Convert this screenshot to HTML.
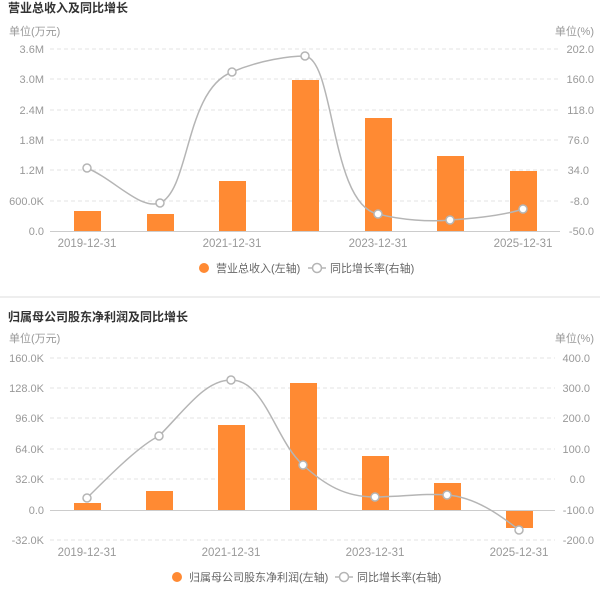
<!DOCTYPE html><html><head><meta charset="utf-8"><style>body{margin:0;background:#fff}svg{display:block}text{font-family:"Liberation Sans","Noto Sans CJK SC",sans-serif}</style></head><body>
<svg width="600" height="592" xmlns="http://www.w3.org/2000/svg">
<g font-size="11" fill="#999">
<text x="8" y="12" font-size="12" font-weight="bold" fill="#333">营业总收入及同比增长</text>
<text x="9" y="35">单位(万元)</text><text x="594" y="35" text-anchor="end">单位(%)</text>
<g stroke="#e3e3e3" stroke-dasharray="4,3"><line x1="50" x2="560" y1="49" y2="49"/><line x1="50" x2="560" y1="79" y2="79"/><line x1="50" x2="560" y1="110" y2="110"/><line x1="50" x2="560" y1="140" y2="140"/><line x1="50" x2="560" y1="170" y2="170"/><line x1="50" x2="560" y1="201" y2="201"/></g>
<line x1="50" x2="560" y1="231.5" y2="231.5" stroke="#ccc"/>
<g text-anchor="end"><text x="44" y="53">3.6M</text><text x="44" y="83">3.0M</text><text x="44" y="114">2.4M</text><text x="44" y="144">1.8M</text><text x="44" y="174">1.2M</text><text x="44" y="205">600.0K</text><text x="44" y="235">0.0</text>
<text x="594" y="53">202.0</text><text x="594" y="83">160.0</text><text x="594" y="114">118.0</text><text x="589" y="144">76.0</text><text x="589" y="174">34.0</text><text x="589" y="205">-8.0</text><text x="594" y="235">-50.0</text></g>
<g fill="#ff8a33"><rect x="74" y="211" width="27" height="20"/><rect x="147" y="214" width="27" height="17"/><rect x="219" y="181" width="27" height="50"/><rect x="292" y="80" width="27" height="151"/><rect x="365" y="118" width="27" height="113"/><rect x="437" y="156" width="27" height="75"/><rect x="510" y="171" width="27" height="60"/></g>
<path d="M87,168 C115,180 140,210 160,203 C190,190 185,90 232,72 C260,60 290,56 305,56 C335,60 330,205 378,214 C400,220 430,222 450,220 C480,218 505,215 523,209" fill="none" stroke="#b5b5b5" stroke-width="1.5"/>
<g fill="#fff" stroke="#b5b5b5" stroke-width="1.5"><circle cx="87" cy="168" r="4"/><circle cx="160" cy="203" r="4"/><circle cx="232" cy="72" r="4"/><circle cx="305" cy="56" r="4"/><circle cx="378" cy="214" r="4"/><circle cx="450" cy="220" r="4"/><circle cx="523" cy="209" r="4"/></g>
<g text-anchor="middle" font-size="11.5"><text x="87" y="247">2019-12-31</text><text x="232" y="247">2021-12-31</text><text x="378" y="247">2023-12-31</text><text x="523" y="247">2025-12-31</text></g>
<circle cx="204" cy="268" r="5" fill="#ff8a33"/><text x="216" y="272" fill="#666">营业总收入(左轴)</text>
<line x1="308" x2="326" y1="268" y2="268" stroke="#b5b5b5" stroke-width="1.5"/><circle cx="317" cy="268" r="4.5" fill="#fff" stroke="#b5b5b5" stroke-width="1.5"/><text x="330" y="272" fill="#666">同比增长率(右轴)</text>
<line x1="0" x2="600" y1="297" y2="297" stroke="#eee" stroke-width="2"/>
<text x="8" y="321" font-size="12" font-weight="bold" fill="#333">归属母公司股东净利润及同比增长</text>
<text x="9" y="342">单位(万元)</text><text x="594" y="342" text-anchor="end">单位(%)</text>
<g stroke="#e3e3e3" stroke-dasharray="4,3"><line x1="50" x2="555" y1="358" y2="358"/><line x1="50" x2="555" y1="388" y2="388"/><line x1="50" x2="555" y1="418" y2="418"/><line x1="50" x2="555" y1="449" y2="449"/><line x1="50" x2="555" y1="479" y2="479"/><line x1="50" x2="555" y1="540" y2="540"/></g>
<g text-anchor="end"><text x="44" y="362">160.0K</text><text x="44" y="392">128.0K</text><text x="44" y="422">96.0K</text><text x="44" y="453">64.0K</text><text x="44" y="483">32.0K</text><text x="44" y="514">0.0</text><text x="44" y="544">-32.0K</text>
<text x="590" y="362">400.0</text><text x="590" y="392">300.0</text><text x="590" y="422">200.0</text><text x="590" y="453">100.0</text><text x="585" y="483">0.0</text><text x="594" y="514">-100.0</text><text x="594" y="544">-200.0</text></g>
<g fill="#ff8a33"><rect x="74" y="503" width="27" height="7"/><rect x="146" y="491" width="27" height="19"/><rect x="218" y="425" width="27" height="85"/><rect x="290" y="383" width="27" height="127"/><rect x="362" y="456" width="27" height="54"/><rect x="434" y="483" width="27" height="27"/><rect x="506" y="510" width="27" height="18"/></g>
<line x1="50" x2="555" y1="510.5" y2="510.5" stroke="#ccc"/>
<path d="M87,498 C110,475 140,445 159,436 C185,410 205,380 231,380 C265,380 275,440 303,465 C325,485 345,497 375,497 C400,497 425,493 447,495 C475,497 500,515 519,530" fill="none" stroke="#b5b5b5" stroke-width="1.5"/>
<g fill="#fff" stroke="#b5b5b5" stroke-width="1.5"><circle cx="87" cy="498" r="4"/><circle cx="159" cy="436" r="4"/><circle cx="231" cy="380" r="4"/><circle cx="303" cy="465" r="4"/><circle cx="375" cy="497" r="4"/><circle cx="447" cy="495" r="4"/><circle cx="519" cy="530" r="4"/></g>
<g text-anchor="middle" font-size="11.5"><text x="87" y="556">2019-12-31</text><text x="231" y="556">2021-12-31</text><text x="375" y="556">2023-12-31</text><text x="519" y="556">2025-12-31</text></g>
<circle cx="177" cy="577" r="5" fill="#ff8a33"/><text x="189" y="581" fill="#666">归属母公司股东净利润(左轴)</text>
<line x1="335" x2="353" y1="577" y2="577" stroke="#b5b5b5" stroke-width="1.5"/><circle cx="344" cy="577" r="4.5" fill="#fff" stroke="#b5b5b5" stroke-width="1.5"/><text x="357" y="581" fill="#666">同比增长率(右轴)</text>
</g></svg></body></html>
